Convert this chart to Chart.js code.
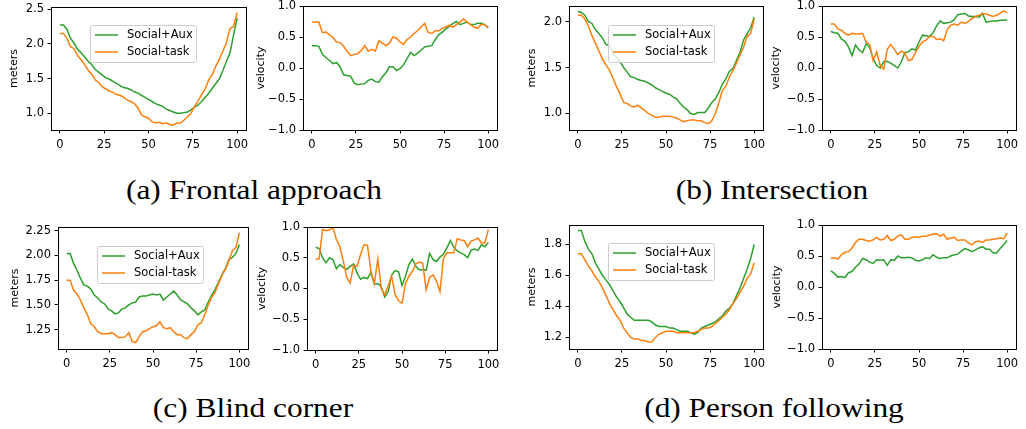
<!DOCTYPE html>
<html>
<head>
<meta charset="utf-8">
<script src="https://cdn.jsdelivr.net/npm/chart.js@4.4.1/dist/chart.umd.min.js"></script>
<style>
  body { margin: 0; background: #fff; }
  #fig { position: relative; width: 1026px; height: 429px; overflow: hidden; }
  #fig canvas { position: absolute; }
  .caption {
    position: absolute; font-family: "Liberation Serif", serif; font-size: 28px;
    line-height: 28px; color: #000; white-space: nowrap;
    transform: translateX(-50%) scaleX(1.12);
  }
</style>
</head>
<body>
<div id="fig">
  <div class="caption" style="left:254px; top:176px">(a) Frontal approach</div>
  <div class="caption" style="left:772px; top:176px">(b) Intersection</div>
  <div class="caption" style="left:253px; top:394px">(c) Blind corner</div>
  <div class="caption" style="left:774px; top:394px">(d) Person following</div>
</div>
<script>
// episode progress (%), sampled every 2 steps
const steps = [0, 2, 4, 6, 8, 10, 12, 14, 16, 18, 20, 22, 24, 26, 28, 30, 32, 34, 36, 38,
  40, 42, 44, 46, 48, 50, 52, 54, 56, 58, 60, 62, 64, 66, 68, 70, 72, 74, 76, 78,
  80, 82, 84, 86, 88, 90, 92, 94, 96, 98, 100];

const xTicks = [0, 25, 50, 75, 100];
const velTicks = [-1, -0.5, 0, 0.5, 1];
const frontalDistTicks = [1.0, 1.5, 2.0, 2.5];
const crossDistTicks = [1.0, 1.5, 2.0];
const cornerDistTicks = [1.25, 1.5, 1.75, 2.0, 2.25];
const followDistTicks = [1.2, 1.4, 1.6, 1.8];

// (a) frontal approach
const frontalDistAux = [2.27, 2.27, 2.21, 2.08, 2.01, 1.92, 1.87, 1.81, 1.75, 1.70,
  1.63, 1.59, 1.55, 1.51, 1.49, 1.46, 1.43, 1.40, 1.37, 1.36,
  1.34, 1.31, 1.29, 1.26, 1.23, 1.20, 1.17, 1.14, 1.12, 1.10,
  1.06, 1.04, 1.02, 1.00, 1.00, 1.01, 1.02, 1.05, 1.09, 1.12,
  1.17, 1.23, 1.29, 1.36, 1.43, 1.50, 1.62, 1.75, 1.87, 2.13, 2.37];
const frontalDistTask = [2.15, 2.15, 2.08, 1.96, 1.93, 1.83, 1.77, 1.70, 1.62, 1.56,
  1.48, 1.44, 1.38, 1.35, 1.32, 1.30, 1.27, 1.26, 1.23, 1.19,
  1.17, 1.14, 1.08, 0.98, 0.95, 0.93, 0.88, 0.86, 0.87, 0.85,
  0.86, 0.84, 0.83, 0.86, 0.86, 0.90, 0.95, 1.00, 1.10, 1.18,
  1.27, 1.35, 1.48, 1.56, 1.68, 1.78, 1.90, 2.02, 2.22, 2.25, 2.45];
const frontalVelAux = [0.36, 0.36, 0.35, 0.22, 0.17, 0.12, 0.07, 0.09, 0.02, -0.11,
  -0.12, -0.13, -0.24, -0.27, -0.26, -0.25, -0.20, -0.18, -0.22, -0.23,
  -0.14, -0.08, 0.02, 0.02, -0.04, -0.01, 0.05, 0.15, 0.25, 0.20,
  0.24, 0.29, 0.34, 0.35, 0.36, 0.46, 0.54, 0.58, 0.63, 0.67,
  0.72, 0.75, 0.70, 0.72, 0.74, 0.70, 0.70, 0.72, 0.72, 0.70, 0.66];
const frontalVelTask = [0.74, 0.74, 0.74, 0.57, 0.58, 0.54, 0.49, 0.42, 0.41, 0.35,
  0.27, 0.20, 0.22, 0.23, 0.28, 0.36, 0.27, 0.30, 0.27, 0.44,
  0.40, 0.36, 0.40, 0.50, 0.48, 0.42, 0.38, 0.46, 0.50, 0.56,
  0.60, 0.66, 0.72, 0.57, 0.56, 0.60, 0.60, 0.64, 0.66, 0.69,
  0.66, 0.70, 0.74, 0.79, 0.74, 0.70, 0.66, 0.64, 0.70, 0.70, 0.64];

// (b) intersection
const crossDistAux = [2.11, 2.10, 2.07, 2.00, 1.98, 1.91, 1.87, 1.82, 1.75, 1.74,
  1.65, 1.61, 1.56, 1.50, 1.45, 1.40, 1.39, 1.37, 1.36, 1.35,
  1.33, 1.31, 1.28, 1.26, 1.24, 1.22, 1.21, 1.18, 1.16, 1.11,
  1.07, 1.04, 1.00, 0.99, 1.01, 1.01, 1.01, 1.06, 1.12, 1.16,
  1.23, 1.32, 1.38, 1.46, 1.49, 1.58, 1.67, 1.80, 1.87, 1.93, 2.05];
const crossDistTask = [2.07, 2.07, 2.03, 1.95, 1.85, 1.76, 1.68, 1.59, 1.53, 1.47,
  1.38, 1.29, 1.21, 1.12, 1.11, 1.08, 1.07, 1.09, 1.06, 1.03,
  1.00, 0.98, 0.96, 0.96, 0.97, 0.97, 0.97, 0.96, 0.95, 0.93,
  0.91, 0.92, 0.93, 0.93, 0.92, 0.92, 0.90, 0.89, 0.92, 1.00,
  1.12, 1.25, 1.30, 1.40, 1.47, 1.55, 1.64, 1.72, 1.84, 1.87, 2.03];
const crossVelAux = [0.59, 0.57, 0.56, 0.47, 0.43, 0.34, 0.20, 0.37, 0.29, 0.25,
  0.39, 0.33, 0.15, 0.04, 0.00, 0.10, 0.11, 0.08, 0.04, 0.00,
  0.10, 0.25, 0.26, 0.31, 0.29, 0.42, 0.53, 0.52, 0.51, 0.57,
  0.68, 0.76, 0.72, 0.73, 0.74, 0.78, 0.86, 0.87, 0.88, 0.84,
  0.83, 0.83, 0.82, 0.88, 0.74, 0.75, 0.76, 0.76, 0.77, 0.77, 0.78];
const crossVelTask = [0.71, 0.71, 0.63, 0.61, 0.56, 0.53, 0.56, 0.55, 0.55, 0.56,
  0.42, 0.38, 0.12, 0.26, 0.04, -0.02, 0.30, 0.38, 0.30, 0.22,
  0.27, 0.24, 0.12, 0.14, 0.25, 0.35, 0.42, 0.45, 0.51, 0.51,
  0.46, 0.47, 0.44, 0.62, 0.69, 0.71, 0.69, 0.74, 0.72, 0.75,
  0.80, 0.83, 0.85, 0.88, 0.87, 0.85, 0.83, 0.85, 0.88, 0.92, 0.89];

// (c) blind corner
const cornerDistAux = [2.02, 2.02, 1.92, 1.85, 1.77, 1.70, 1.69, 1.66, 1.60, 1.57,
  1.53, 1.51, 1.46, 1.44, 1.41, 1.42, 1.46, 1.47, 1.50, 1.52,
  1.53, 1.58, 1.59, 1.59, 1.60, 1.61, 1.60, 1.61, 1.55, 1.58,
  1.61, 1.64, 1.60, 1.55, 1.53, 1.51, 1.47, 1.44, 1.40, 1.43,
  1.45, 1.53, 1.60, 1.66, 1.73, 1.81, 1.87, 1.96, 1.98, 2.02, 2.11];
const cornerDistTask = [1.75, 1.75, 1.65, 1.61, 1.55, 1.47, 1.40, 1.31, 1.28, 1.23,
  1.21, 1.21, 1.21, 1.22, 1.20, 1.17, 1.17, 1.18, 1.22, 1.13,
  1.12, 1.18, 1.23, 1.24, 1.26, 1.28, 1.29, 1.33, 1.27, 1.26,
  1.27, 1.23, 1.20, 1.20, 1.17, 1.16, 1.20, 1.23, 1.30, 1.32,
  1.40, 1.50, 1.58, 1.63, 1.72, 1.80, 1.86, 1.95, 2.05, 2.08, 2.23];
const cornerVelAux = [0.67, 0.65, 0.50, 0.42, 0.50, 0.47, 0.32, 0.39, 0.34, 0.31,
  0.36, 0.40, 0.25, 0.15, 0.18, 0.16, 0.26, 0.07, 0.08, 0.03,
  -0.14, -0.05, 0.22, 0.29, 0.27, 0.05, 0.20, 0.39, 0.48, 0.36,
  0.30, 0.31, 0.30, 0.57, 0.47, 0.44, 0.51, 0.56, 0.66, 0.78,
  0.67, 0.61, 0.58, 0.55, 0.50, 0.62, 0.64, 0.62, 0.71, 0.68, 0.75];
const cornerVelTask = [0.48, 0.48, 0.96, 0.94, 0.95, 0.99, 0.80, 0.68, 0.45, 0.18,
  0.09, 0.38, 0.36, 0.55, 0.71, 0.70, 0.28, 0.08, 0.48, 0.00,
  -0.10, 0.05, 0.20, -0.10, -0.20, -0.24, 0.08, 0.20, 0.28, 0.40,
  0.43, 0.41, -0.02, 0.18, 0.22, 0.12, -0.05, 0.49, 0.58, 0.58,
  0.58, 0.81, 0.79, 0.78, 0.68, 0.77, 0.79, 0.82, 0.74, 0.74, 0.96];

// (d) person following
const followDistAux = [1.89, 1.89, 1.82, 1.77, 1.74, 1.68, 1.64, 1.60, 1.57, 1.54,
  1.50, 1.46, 1.43, 1.39, 1.35, 1.33, 1.31, 1.31, 1.31, 1.31,
  1.31, 1.30, 1.28, 1.27, 1.27, 1.27, 1.26, 1.26, 1.25, 1.24,
  1.24, 1.24, 1.23, 1.22, 1.23, 1.26, 1.27, 1.28, 1.29, 1.30,
  1.32, 1.34, 1.37, 1.39, 1.42, 1.47, 1.52, 1.58, 1.64, 1.71, 1.80];
const followDistTask = [1.74, 1.74, 1.70, 1.66, 1.63, 1.59, 1.56, 1.52, 1.47, 1.42,
  1.38, 1.34, 1.31, 1.26, 1.23, 1.20, 1.19, 1.19, 1.18, 1.18,
  1.17, 1.17, 1.20, 1.22, 1.23, 1.24, 1.24, 1.24, 1.23, 1.23,
  1.23, 1.23, 1.23, 1.23, 1.24, 1.25, 1.26, 1.26, 1.27, 1.29,
  1.31, 1.33, 1.35, 1.38, 1.42, 1.45, 1.49, 1.53, 1.58, 1.61, 1.68];
const followVelAux = [0.26, 0.22, 0.16, 0.17, 0.15, 0.23, 0.25, 0.32, 0.37, 0.46,
  0.44, 0.40, 0.38, 0.44, 0.43, 0.44, 0.35, 0.44, 0.43, 0.50,
  0.47, 0.47, 0.48, 0.47, 0.43, 0.42, 0.44, 0.47, 0.46, 0.52,
  0.48, 0.46, 0.47, 0.47, 0.50, 0.52, 0.53, 0.58, 0.62, 0.60,
  0.57, 0.60, 0.63, 0.65, 0.61, 0.61, 0.55, 0.55, 0.62, 0.68, 0.75];
const followVelTask = [0.46, 0.47, 0.45, 0.52, 0.56, 0.57, 0.63, 0.72, 0.77, 0.77,
  0.75, 0.74, 0.76, 0.80, 0.76, 0.77, 0.83, 0.75, 0.77, 0.82,
  0.84, 0.77, 0.77, 0.80, 0.81, 0.80, 0.82, 0.82, 0.84, 0.85,
  0.86, 0.82, 0.85, 0.77, 0.79, 0.80, 0.75, 0.76, 0.76, 0.71,
  0.68, 0.73, 0.74, 0.72, 0.76, 0.76, 0.77, 0.78, 0.79, 0.78, 0.87];

const GREEN = '#2ca02c';
const ORANGE = '#ff7f0e';
const FONT = 'DejaVu Sans';

// plot boxes are [left, top, right, bottom] on the page
const panels = [
  { box: [51, 7, 246, 130], axisW: 47, title: 'meters', yMin: 0.76, yMax: 2.53, ticks: frontalDistTicks, dec: 1,
    aux: frontalDistAux, task: frontalDistTask, legend: [39, 18] },
  { box: [303, 6, 497, 130], axisW: 52, title: 'velocity', yMin: -1, yMax: 1, ticks: velTicks, dec: 1,
    aux: frontalVelAux, task: frontalVelTask },
  { box: [569, 6, 763, 130], axisW: 47, title: 'meters', yMin: 0.82, yMax: 2.17, ticks: crossDistTicks, dec: 1,
    aux: crossDistAux, task: crossDistTask, legend: [39, 19] },
  { box: [822, 6, 1016, 130], axisW: 56, title: 'velocity', yMin: -1, yMax: 1, ticks: velTicks, dec: 1,
    aux: crossVelAux, task: crossVelTask },
  { box: [58, 227, 248, 349], axisW: 53, title: 'meters', yMin: 1.055, yMax: 2.287, ticks: cornerDistTicks, dec: 2,
    aux: cornerDistAux, task: cornerDistTask, legend: [39, 19] },
  { box: [307, 227, 497, 350], axisW: 55, title: 'velocity', yMin: -1, yMax: 1, ticks: velTicks, dec: 1,
    aux: cornerVelAux, task: cornerVelTask },
  { box: [569, 225, 763, 349], axisW: 47, title: 'meters', yMin: 1.125, yMax: 1.926, ticks: followDistTicks, dec: 1,
    aux: followDistAux, task: followDistTask, legend: [39, 18] },
  { box: [822, 225, 1016, 349], axisW: 55, title: 'velocity', yMin: -1, yMax: 1, ticks: velTicks, dec: 1,
    aux: followVelAux, task: followVelTask }
];

// black box around the plot area, like matplotlib spines
const framePlugin = {
  id: 'frame',
  afterDatasetsDraw(chart) {
    const { ctx, chartArea: a } = chart;
    ctx.save();
    ctx.strokeStyle = '#000';
    ctx.lineWidth = 1;
    const l = Math.round(a.left) + 0.5, t = Math.round(a.top) + 0.5;
    ctx.strokeRect(l, t, Math.round(a.right) - Math.round(a.left), Math.round(a.bottom) - Math.round(a.top));
    ctx.restore();
  }
};

// legend box drawn inside the plot area
const insetLegend = {
  id: 'insetLegend',
  afterDraw(chart, args, opts) {
    if (!opts || opts.x === undefined) return;
    const { ctx, chartArea: a } = chart;
    const x0 = a.left + opts.x, y0 = a.top + opts.y;
    ctx.save();
    ctx.beginPath();
    ctx.roundRect(x0 + 0.5, y0 + 0.5, 106, 37, 2);
    ctx.fillStyle = 'rgba(255,255,255,0.8)';
    ctx.fill();
    ctx.strokeStyle = '#cccccc';
    ctx.lineWidth = 1;
    ctx.stroke();
    ctx.font = '11.5px "' + FONT + '"';
    ctx.textBaseline = 'middle';
    chart.data.datasets.forEach((ds, i) => {
      const y = y0 + 10 + i * 17;
      ctx.beginPath();
      ctx.moveTo(x0 + 5, y);
      ctx.lineTo(x0 + 28, y);
      ctx.strokeStyle = ds.borderColor;
      ctx.lineWidth = 1.5;
      ctx.stroke();
      ctx.fillStyle = '#000';
      ctx.fillText(ds.label, x0 + 37, y);
    });
    ctx.restore();
  }
};

const fig = document.getElementById('fig');

function toPoints(values) {
  return steps.map((s, i) => ({ x: s, y: values[i] }));
}

function fmt(v, dec) {
  return v.toFixed(dec).replace('-', '\u2212');
}

function makePanel(p) {
  const [left, top, right, bottom] = p.box;
  const cl = left - p.axisW, ct = top - 8;
  const w = right + 14 - cl, h = bottom + 26 - ct;
  const canvas = document.createElement('canvas');
  canvas.width = w;
  canvas.height = h;
  canvas.style.left = cl + 'px';
  canvas.style.top = ct + 'px';
  canvas.style.width = w + 'px';
  canvas.style.height = h + 'px';
  fig.appendChild(canvas);

  const tickGrid = { display: true, drawOnChartArea: false, drawTicks: true, tickLength: 3.5, color: '#000', lineWidth: 1 };
  const tickFont = { family: FONT, size: 11.5 };

  new Chart(canvas, {
    type: 'line',
    data: {
      datasets: [
        { label: 'Social+Aux', data: toPoints(p.aux), borderColor: GREEN, borderWidth: 1.5, pointRadius: 0, order: 1 },
        { label: 'Social-task', data: toPoints(p.task), borderColor: ORANGE, borderWidth: 1.5, pointRadius: 0, order: 0 }
      ]
    },
    options: {
      responsive: false,
      animation: false,
      layout: { padding: { top: 8, right: 14, left: 0, bottom: 0 } },
      plugins: {
        legend: { display: false },
        tooltip: { enabled: false },
        insetLegend: p.legend ? { x: p.legend[0], y: p.legend[1] } : {}
      },
      scales: {
        x: {
          type: 'linear', min: -5, max: 105,
          afterBuildTicks: s => { s.ticks = xTicks.map(v => ({ value: v })); },
          afterFit: s => { s.height = 26; s.paddingLeft = 0; s.paddingRight = 0; },
          grid: tickGrid,
          border: { display: false },
          ticks: { font: tickFont, color: '#000', padding: 5, maxRotation: 0, autoSkip: false,
            callback: v => String(v) }
        },
        y: {
          type: 'linear', min: p.yMin, max: p.yMax,
          afterBuildTicks: s => { s.ticks = p.ticks.map(v => ({ value: v })); },
          afterFit: s => { s.width = p.axisW; s.paddingTop = 0; s.paddingBottom = 0; },
          grid: tickGrid,
          border: { display: false },
          title: { display: true, text: p.title, font: { family: FONT, size: 11 }, color: '#000', padding: { top: 4, bottom: 4 } },
          ticks: { font: tickFont, color: '#000', padding: 3.5, autoSkip: false,
            callback: v => fmt(v, p.dec) }
        }
      }
    },
    plugins: [framePlugin, insetLegend]
  });
}

panels.forEach(makePanel);
</script>
</body>
</html>
